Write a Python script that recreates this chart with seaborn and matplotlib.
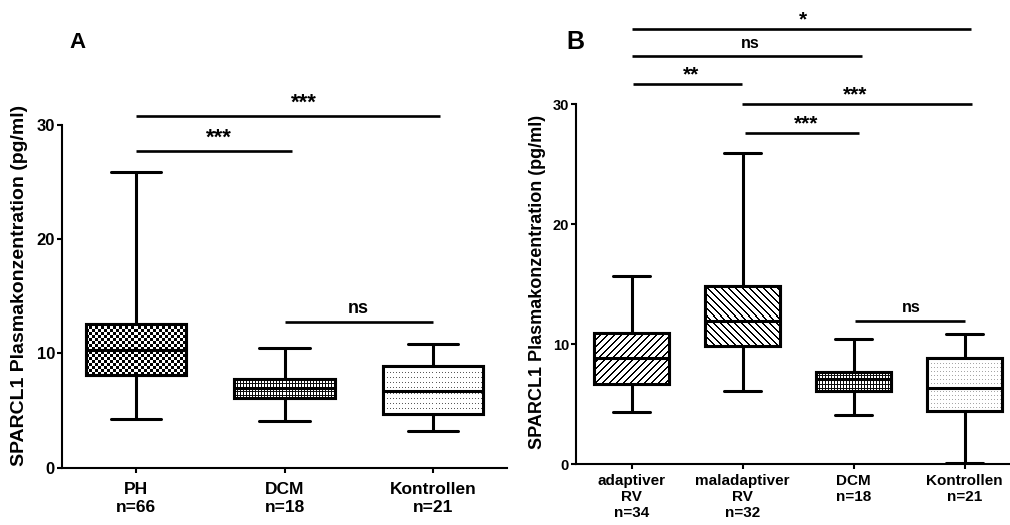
import numpy as np
import pandas as pd
import matplotlib
matplotlib.use("Agg")
import matplotlib.pyplot as plt
from matplotlib.patches import PathPatch
import seaborn as sns

sns.set_style("ticks")
plt.rcParams["font.family"] = ["Liberation Sans", "DejaVu Sans"]
plt.rcParams["font.weight"] = "bold"
plt.rcParams["text.color"] = "black"
plt.rcParams["axes.labelcolor"] = "black"
plt.rcParams["xtick.color"] = "black"
plt.rcParams["ytick.color"] = "black"

# ---------------- data (five-number summaries) -------------
cats_a = ["PH", "DCM", "Kontrollen"]
ticklabels_a = ["PH\nn=66", "DCM\nn=18", "Kontrollen\nn=21"]
ph_a = [4.3, 8.1, 10.3, 12.6, 25.9]
dcm_a = [4.1, 6.1, 6.95, 7.75, 10.45]
kon_a = [3.2, 4.7, 6.7, 8.9, 10.8]

cats_b = ["adaptiver RV", "maladaptiver RV", "DCM", "Kontrollen"]
ticklabels_b = ["adaptiver\nRV\nn=34", "maladaptiver\nRV\nn=32", "DCM\nn=18", "Kontrollen\nn=21"]
ada_b = [4.35, 6.7, 8.8, 10.9, 15.65]
mal_b = [6.1, 9.85, 11.95, 14.8, 25.9]
dcm_b = [4.05, 6.1, 7.1, 7.7, 10.45]
kon_b = [0.05, 4.45, 6.3, 8.85, 10.85]

# significance bars: (x_start, x_end, y, label, label_x)
sig_a = [(0.0, 2.05, 30.8, "***", 1.13),
         (0.0, 1.05, 27.7, "***", 0.557),
         (1.0, 2.0, 12.72, "ns", 1.5)]
sig_b = [(0.0, 3.06, 36.25, "*", 1.545),
         (0.0, 2.08, 34.0, "ns", 1.07),
         (0.015, 0.994, 31.67, "**", 0.533),
         (0.997, 3.07, 30.0, "***", 2.01),
         (1.02, 2.05, 27.6, "***", 1.57),
         (2.01, 3.0, 11.94, "ns", 2.52)]

ylabel = "SPARCL1 Plasmakonzentration (pg/ml)"

df_a = pd.DataFrame({"group": np.repeat(cats_a, 5),
                     "value": ph_a + dcm_a + kon_a})
df_b = pd.DataFrame({"group": np.repeat(cats_b, 5),
                     "value": ada_b + mal_b + dcm_b + kon_b})

W, H = 1010, 525
fig = plt.figure(figsize=(W / 100, H / 100), dpi=100)
axA = fig.add_axes([62 / W, (H - 467.7) / H, (507 - 62) / W, (467.7 - 124.8) / H])
axB = fig.add_axes([576 / W, (H - 464) / H, (1020 - 576) / W, (464 - 104) / H])

LW = 2.2


def texture(kind, h, w):
    i, j = np.mgrid[0:h, 0:w]
    img = np.ones((h, w))
    if kind == "checker":
        img = (((i // 3) + (j // 3)) % 2).astype(float)
    elif kind == "grid":
        img[(i % 4 == 0) | (j % 3 == 0)] = 0.05
    elif kind == "dots":
        img[(i % 5 == 2) & (j % 3 == 1)] = 0.35
    elif kind == "dots_light":
        img[(i % 4 == 1) & (j % 3 == 1)] = 0.65
    elif kind == "fwd":
        img[(i + j) % 7 < 2] = 0.0
    elif kind == "back":
        img[(j - i) % 7 < 2] = 0.0
    return img


def draw_panel(ax, df, cats, ticklabels, textures, sigs, tick_fs, xl_fs, sig_fs, ns_fs,
               star_off, ns_off, xpad):
    sns.boxplot(data=df, x="group", y="value", order=cats, whis=(0, 100),
                width=0.675, color="white", linecolor="black", linewidth=LW,
                fliersize=0, ax=ax,
                medianprops=dict(color="black", linewidth=LW),
                whiskerprops=dict(color="black", linewidth=LW),
                capprops=dict(color="black", linewidth=LW))
    ax.set_xlim(-0.5, len(cats) - 0.5)
    ax.set_ylim(0, 30)
    for ln in ax.lines:
        ln.set_zorder(2.3)
    boxes = sorted([p for p in ax.patches], key=lambda p: p.get_path().vertices[:, 0].mean())
    for patch, kind in zip(boxes, textures):
        path = patch.get_path().transformed(patch.get_patch_transform())
        v = path.vertices
        x0, x1 = v[:, 0].min(), v[:, 0].max()
        y0, y1 = v[:, 1].min(), v[:, 1].max()
        p0 = ax.transData.transform((x0, y0))
        p1 = ax.transData.transform((x1, y1))
        wpx = max(int(round(abs(p1[0] - p0[0]))), 1)
        hpx = max(int(round(abs(p1[1] - p0[1]))), 1)
        im = ax.imshow(texture(kind, hpx, wpx), extent=[x0, x1, y0, y1], cmap="gray",
                       vmin=0, vmax=1, interpolation="nearest", aspect="auto", zorder=2.05)
        im.set_clip_path(patch)
        edge = PathPatch(patch.get_path(), transform=patch.get_transform(),
                         facecolor="none", edgecolor="black", linewidth=LW, zorder=2.2)
        ax.add_patch(edge)
    ax.set_xlim(-0.5, len(cats) - 0.5)
    ax.set_ylim(0, 30)

    ax.set_xticks(range(len(cats)))
    ax.set_xticklabels(ticklabels, fontsize=xl_fs, fontweight="bold", linespacing=1.2,
                       color="black")
    ax.set_yticks([0, 10, 20, 30])
    ax.set_yticklabels(["0", "10", "20", "30"], fontsize=tick_fs, fontweight="bold",
                       color="black")
    ax.set_xlabel("")
    ax.set_ylabel("")
    sns.despine(ax=ax)
    for s in ("left", "bottom"):
        ax.spines[s].set_linewidth(1.5)
        ax.spines[s].set_color("black")
    ax.tick_params(axis="y", width=1.5, length=3.6, pad=1.5, color="black")
    ax.tick_params(axis="x", width=1.5, length=3.6, pad=xpad, color="black")

    for xs, xe, y, lab, lx in sigs:
        ax.plot([xs, xe], [y, y], color="black", linewidth=1.9, clip_on=False,
                solid_capstyle="butt", zorder=3)
        if lab == "ns":
            ax.annotate(lab, xy=(lx, y), xytext=(0, ns_off), textcoords="offset points",
                        ha="center", va="baseline", fontsize=ns_fs, fontweight="bold",
                        annotation_clip=False, color="black")
        else:
            ax.annotate(lab, xy=(lx, y), xytext=(0, star_off), textcoords="offset points",
                        ha="center", va="baseline", fontsize=sig_fs, fontweight="bold",
                        annotation_clip=False, color="black")


draw_panel(axA, df_a, cats_a, ticklabels_a, ["checker", "grid", "dots"], sig_a,
           tick_fs=12, xl_fs=12.5, sig_fs=16, ns_fs=13, star_off=5, ns_off=7, xpad=7)
draw_panel(axB, df_b, cats_b, ticklabels_b, ["fwd", "back", "grid", "dots_light"], sig_b,
           tick_fs=10.5, xl_fs=11, sig_fs=15, ns_fs=11.5, star_off=2.5, ns_off=6, xpad=3.5)

fig.text(20 / W, 1 - 285.5 / H, ylabel, rotation=90, ha="center", va="center",
         fontsize=14, fontweight="bold", color="black")
fig.text(538 / W, 1 - 282 / H, ylabel, rotation=90, ha="center", va="center",
         fontsize=13, fontweight="bold", color="black")
fig.text(78 / W, 1 - 42 / H, "A", ha="center", va="center", fontsize=16, fontweight="bold",
         color="black")
fig.text(575 / W, 1 - 42 / H, "B", ha="center", va="center", fontsize=18, fontweight="bold",
         color="black")

fig.savefig("out.png", dpi=100)
